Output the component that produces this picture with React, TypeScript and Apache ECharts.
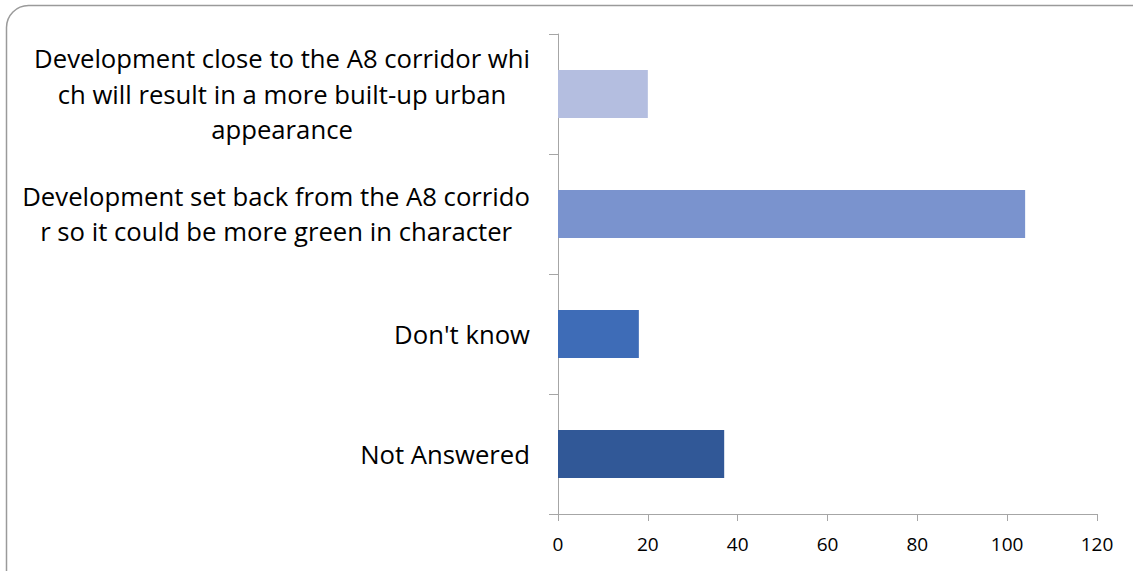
import React, { useEffect, useRef } from "react";
import * as echarts from "echarts";

const categories: string[] = [
  "Development close to the A8 corridor whi\nch will result in a more built-up urban\nappearance",
  "Development set back from the A8 corrido\nr so it could be more green in character",
  "Don't know",
  "Not Answered",
];
const values: number[] = [20, 104, 18, 37];
const barColors: string[] = ["#B4BEE0", "#7A93CE", "#3E6CB7", "#315897"];
const xTicks = { min: 0, max: 120, interval: 20 };

const FONT = "'Open Sans', sans-serif";

export default function App() {
  const ref = useRef<HTMLDivElement>(null);
  useEffect(() => {
    if (!ref.current) return;
    const chart = echarts.init(ref.current, undefined, { renderer: "svg" });
    chart.setOption({
      animation: false,
      backgroundColor: "#ffffff",
      graphic: [
        {
          type: "rect",
          shape: { x: 6.5, y: 5.5, width: 1160, height: 600, r: 22 },
          style: { fill: "none", stroke: "#9a9a9a", lineWidth: 1.5 },
          silent: true,
          z: -1,
        },
      ],
      grid: { left: 558, right: 36, top: 34, bottom: 57, containLabel: false },
      xAxis: {
        type: "value",
        min: xTicks.min,
        max: xTicks.max,
        interval: xTicks.interval,
        splitLine: { show: false },
        axisLine: { show: true, lineStyle: { color: "#a6a6a6", width: 1 } },
        axisTick: { show: true, length: 7, lineStyle: { color: "#a6a6a6" } },
        axisLabel: { color: "#000", fontSize: 19, fontFamily: FONT, margin: 20 },
      },
      yAxis: {
        type: "category",
        inverse: true,
        data: categories,
        axisLine: { show: true, lineStyle: { color: "#a6a6a6", width: 1 } },
        axisTick: { show: true, length: 9, lineStyle: { color: "#a6a6a6" } },
        axisLabel: {
          margin: 28,
          formatter: (v: string) =>
            v
              .split("\n")
              .map((l) => `{c|${l}}`)
              .join("\n"),
          rich: {
            c: {
              align: "center",
              color: "#000",
              fontSize: 25.7,
              fontFamily: FONT,
              lineHeight: 35.5,
            },
          },
        },
      },
      series: [
        {
          type: "bar",
          barWidth: 48,
          data: values.map((v, i) => ({ value: v, itemStyle: { color: barColors[i] } })),
        },
      ],
    });
    return () => chart.dispose();
  }, []);
  return (
    <div
      ref={ref}
      style={{ position: "absolute", left: 0, top: 0, width: 1133, height: 571 }}
    />
  );
}
